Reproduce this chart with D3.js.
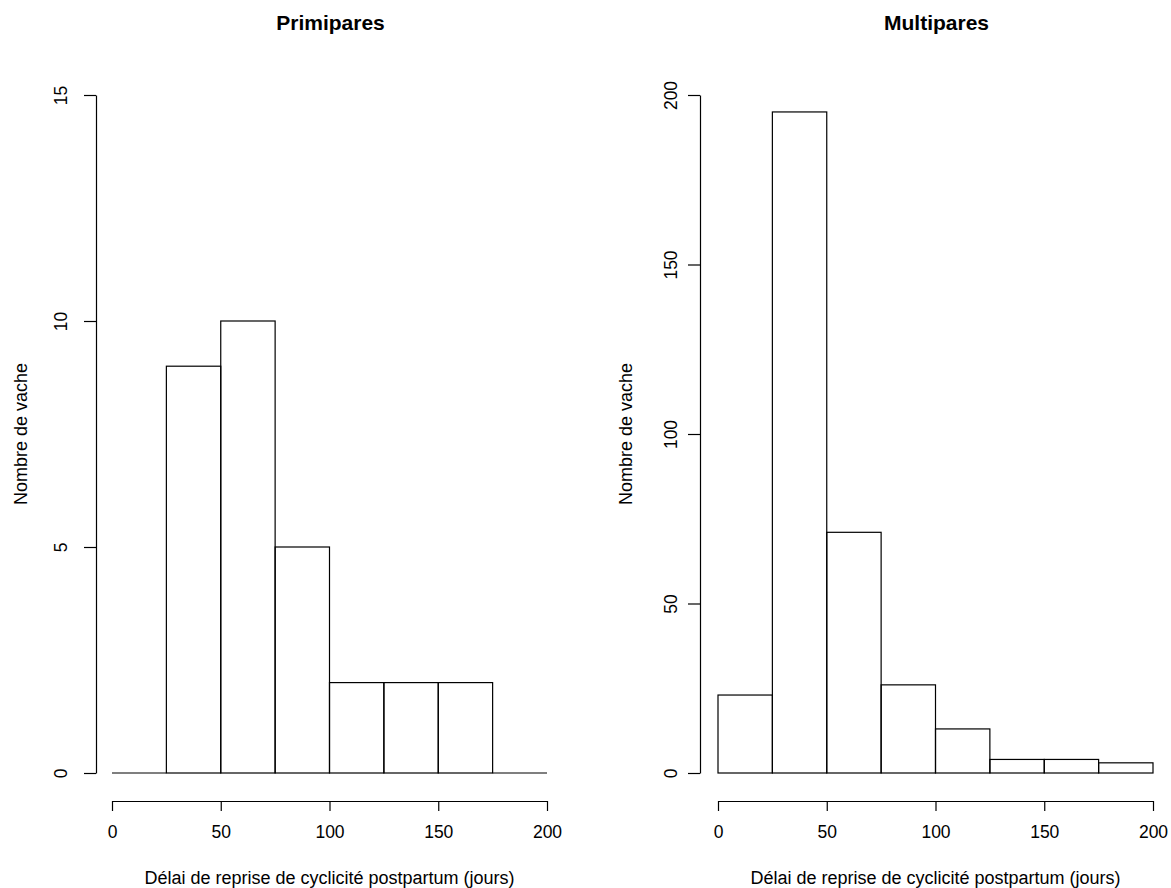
<!DOCTYPE html>
<html>
<head>
<meta charset="utf-8">
<script src="https://cdn.jsdelivr.net/npm/d3@7"></script>
<style>
  body { margin: 0; background: #fff; }
  text { font-family: "Liberation Sans", Arial, sans-serif; fill: #000; }
</style>
</head>
<body>
<svg id="chart" width="1171" height="888"></svg>
<script>
// Bin edges (days) shared by both histograms
const binEdges = [0, 25, 50, 75, 100, 125, 150, 175, 200];
const xTicks = [0, 50, 100, 150, 200];

// Counts per bin
const primiparesCounts = [0, 9, 10, 5, 2, 2, 2, 0];
const multiparesCounts = [23, 195, 71, 26, 13, 4, 4, 3];

const primiparesYTicks = [0, 5, 10, 15];
const multiparesYTicks = [0, 50, 100, 150, 200];

const panels = [
  { title: "Primipares", counts: primiparesCounts, yMax: 15, yTicks: primiparesYTicks,
    x0: 112, x1: 547, yAxisX: 96, tickLabelOffset: 35, yTitleX: 27 },
  { title: "Multipares", counts: multiparesCounts, yMax: 200, yTicks: multiparesYTicks,
    x0: 718, x1: 1153, yAxisX: 700, tickLabelOffset: 29, yTitleX: 632 }
];

const svg = d3.select("#chart");
const yBottom = 773, yTop = 95, xAxisY = 801;
const FONT = "'Liberation Sans', Arial, sans-serif";

panels.forEach(p => {
  const g = svg.append("g");
  const x = d3.scaleLinear().domain([0, 200]).range([p.x0, p.x1]);
  const y = d3.scaleLinear().domain([0, p.yMax]).range([yBottom, yTop]);

  const bins = p.counts.map((c, i) => ({ lo: binEdges[i], hi: binEdges[i + 1], n: c }));

  g.selectAll("rect.bar").data(bins).enter().append("rect")
    .attr("class", "bar")
    .attr("x", d => x(d.lo))
    .attr("y", d => y(d.n))
    .attr("width", d => x(d.hi) - x(d.lo))
    .attr("height", d => y(0) - y(d.n))
    .attr("fill", "none")
    .attr("stroke", "#000")
    .attr("stroke-width", 1.2);

  // zero-count bins still show as a line on the baseline
  g.selectAll("line.zero").data(bins.filter(d => d.n === 0)).enter().append("line")
    .attr("x1", d => x(d.lo)).attr("x2", d => x(d.hi))
    .attr("y1", y(0)).attr("y2", y(0))
    .attr("stroke", "#000").attr("stroke-width", 1.2);

  // x axis
  const xa = g.append("g").attr("transform", `translate(0,${xAxisY})`)
    .call(d3.axisBottom(x).tickValues(xTicks).tickSize(10).tickSizeOuter(0).tickPadding(15));
  xa.selectAll("path, line").attr("stroke", "#000").attr("stroke-width", 1.2);
  xa.selectAll("text").attr("font-size", 17.5).style("font-family", FONT);

  // y axis with rotated tick labels
  const ya = g.append("g").attr("transform", `translate(${p.yAxisX},0)`)
    .call(d3.axisLeft(y).tickValues(p.yTicks).tickSize(12).tickSizeOuter(0));
  ya.selectAll("path, line").attr("stroke", "#000").attr("stroke-width", 1.2);
  ya.selectAll("text")
    .attr("font-size", 17.5)
    .style("font-family", FONT)
    .attr("x", 0).attr("dy", 0)
    .attr("text-anchor", "middle")
    .attr("transform", `translate(${-p.tickLabelOffset},0) rotate(-90)`)
    .attr("dominant-baseline", "central");

  // titles and axis labels
  g.append("text")
    .attr("x", (p.x0 + p.x1) / 2 + 1).attr("y", 30)
    .attr("text-anchor", "middle").attr("font-size", 21).attr("font-weight", "bold")
    .text(p.title);

  g.append("text")
    .attr("x", (p.x0 + p.x1) / 2).attr("y", 884)
    .attr("text-anchor", "middle").attr("font-size", 18)
    .text("Délai de reprise de cyclicité postpartum (jours)");

  g.append("text")
    .attr("transform", `translate(${p.yTitleX},${(yTop + yBottom) / 2}) rotate(-90)`)
    .attr("text-anchor", "middle").attr("font-size", 18)
    .text("Nombre de vache");
});
</script>
</body>
</html>
